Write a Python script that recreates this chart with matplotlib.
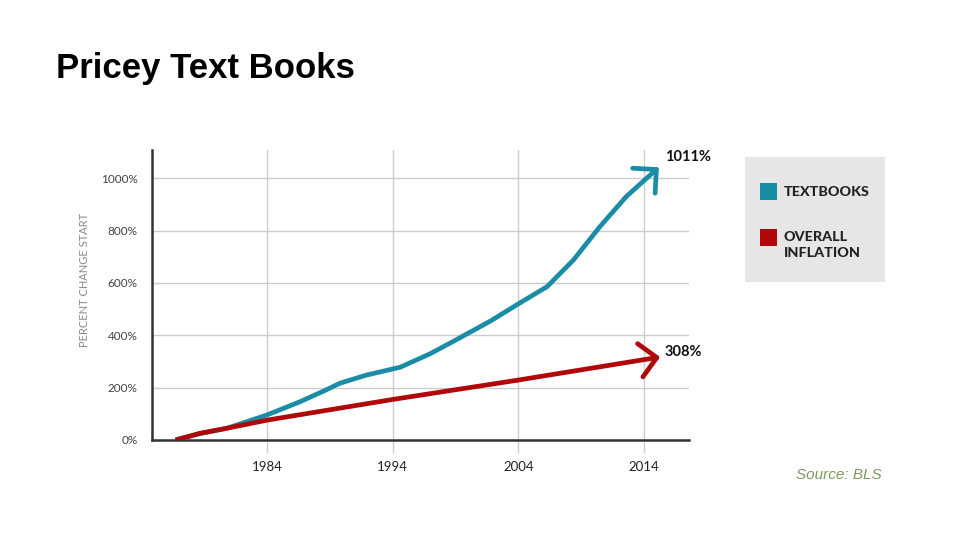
import matplotlib
matplotlib.use("Agg")
import matplotlib.pyplot as plt
from matplotlib.patches import Rectangle

# values (percent change since start)
years_textbooks = [1976.7, 1978.6, 1980.8, 1984, 1986.6, 1988.5, 1989.8, 1991.9, 1994.6, 1997, 1999.1,
                   2001.8, 2004, 2006.3, 2008.4, 2010.5, 2012.6, 2015.2]
textbooks = [0, 24, 45, 96, 146, 187, 217, 248, 278, 330, 384, 455, 520, 586, 688, 815, 930, 1042]

years_inflation = [1976.7, 1978.6, 1980.8, 1984, 1994, 2004, 2015.3]
inflation = [0, 25, 45, 76, 155, 229, 317]

x_ticks = [1984, 1994, 2004, 2014]
y_ticks = [0, 200, 400, 600, 800, 1000]
y_labels = ["0%", "200%", "400%", "600%", "800%", "1000%"]

TEAL = "#1b8ca6"
RED = "#b00808"
W, H = 960, 540

fig = plt.figure(figsize=(9.6, 5.4), dpi=100)
ax = fig.add_axes([151.7 / W, 1 - 440 / H, (689 - 151.7) / W, (440 - 150) / H])

ax.set_xlim(1974.8, 2017.6)
ax.set_ylim(0, 1108)

ax.set_xticks(x_ticks)
ax.set_xticklabels([str(y) for y in x_ticks], family="Lato", fontsize=9.5, color="#222")
ax.set_yticks(y_ticks)
ax.set_yticklabels(y_labels, family="Lato", fontsize=8.5, color="#444")
ax.tick_params(axis="x", length=9, color="#cccccc", width=1, pad=6)
ax.tick_params(axis="y", length=0, pad=10)
ax.grid(True, color="#cccccc", lw=1)
ax.set_axisbelow(True)

for s in ["top", "right"]:
    ax.spines[s].set_visible(False)
ax.spines["left"].set_color("#333333")
ax.spines["left"].set_linewidth(1.8)
ax.spines["bottom"].set_color("#333333")
ax.spines["bottom"].set_linewidth(1.8)

arrow = "->,head_length=0.55,head_width=0.55"

ax.plot(years_textbooks[:-1], textbooks[:-1], color=TEAL, lw=3.4, solid_capstyle="butt",
        solid_joinstyle="round", zorder=3)
ax.annotate("", xy=(years_textbooks[-1], textbooks[-1]), xytext=(years_textbooks[-2], textbooks[-2]),
            arrowprops=dict(arrowstyle=arrow, color=TEAL, lw=3.4, shrinkA=0, shrinkB=0,
                            mutation_scale=22), zorder=3)

ax.plot(years_inflation[:-1], inflation[:-1], color=RED, lw=3.4, solid_capstyle="butt",
        solid_joinstyle="round", zorder=4)
ax.annotate("", xy=(years_inflation[-1], inflation[-1]), xytext=(years_inflation[-2], inflation[-2]),
            arrowprops=dict(arrowstyle=arrow, color=RED, lw=3.4, shrinkA=0, shrinkB=0,
                            mutation_scale=22), zorder=4)

# end labels
fig.text(665 / W, 1 - 157 / H, "1011%", family="Lato", weight="bold", fontsize=10.5, color="#111", va="center")
fig.text(665 / W, 1 - 352 / H, "308%", family="Lato", weight="bold", fontsize=10.5, color="#111", va="center")

fig.text(85 / W, 1 - 279.5 / H, "PERCENT CHANGE START", family="Lato", fontsize=8, color="#888888",
         rotation=90, ha="center", va="center")

# legend box
fig.add_artist(Rectangle((745 / W, 1 - 282 / H), 140 / W, 125 / H, transform=fig.transFigure,
                         facecolor="#e6e6e6", edgecolor="none"))
fig.add_artist(Rectangle((760 / W, 1 - 200 / H), 17 / W, 17 / H, transform=fig.transFigure,
                         facecolor=TEAL, edgecolor="none"))
fig.add_artist(Rectangle((760 / W, 1 - 246 / H), 17 / W, 17 / H, transform=fig.transFigure,
                         facecolor=RED, edgecolor="none"))
fig.text(784 / W, 1 - 191.5 / H, "TEXTBOOKS", family="Lato", weight="black", fontsize=10.3, color="#222",
         va="center")
fig.text(784 / W, 1 - 245 / H, "OVERALL\nINFLATION", family="Lato", weight="black", fontsize=10.3,
         color="#222", va="center", linespacing=1.35)

fig.text(56 / W, 1 - 78 / H, "Pricey Text Books", family="Liberation Sans", weight="bold", fontsize=25,
         color="black", va="baseline")
fig.text(882 / W, 1 - 475 / H, "Source: BLS", family="Liberation Sans", style="italic", fontsize=11,
         color="#7a9a60", ha="right", va="center")

fig.savefig("out.png", dpi=100)
